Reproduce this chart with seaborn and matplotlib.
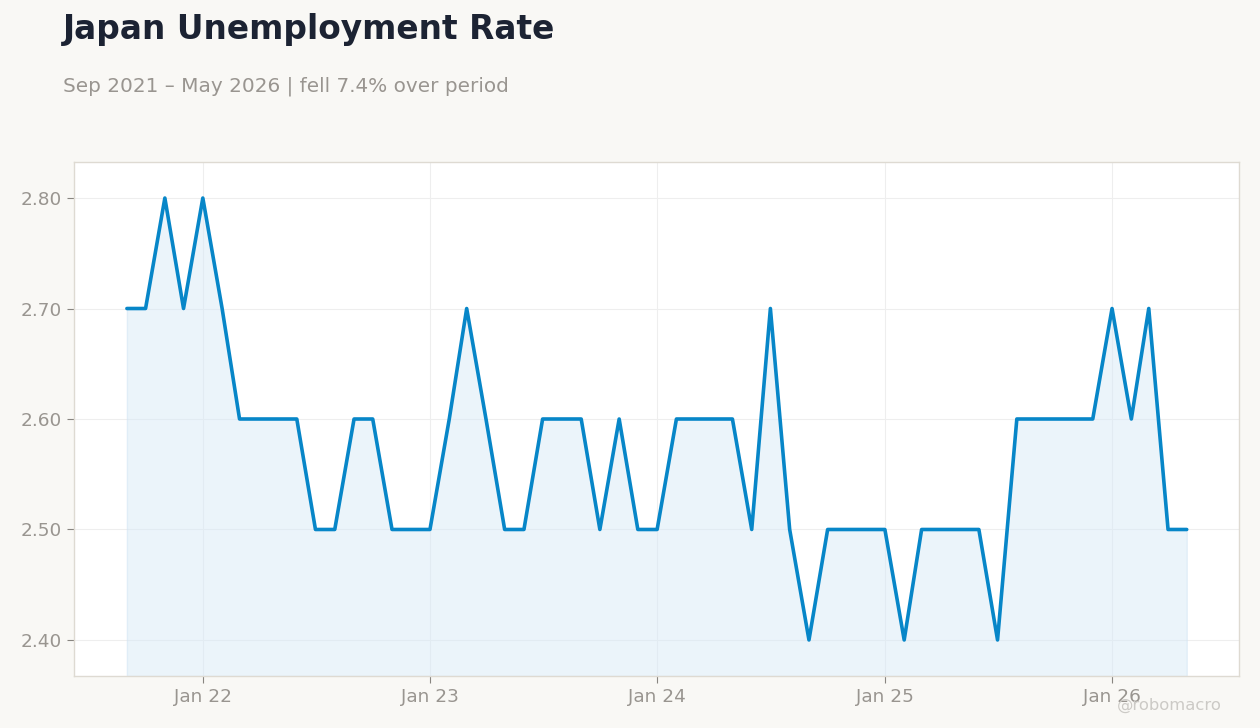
import pandas as pd
import matplotlib.pyplot as plt
import matplotlib.dates as mdates
import seaborn as sns

# monthly unemployment rate, Sep 2021 - May 2026
months = pd.date_range('2021-09-01', '2026-05-01', freq='MS')
rate = [2.7, 2.7, 2.8, 2.7,
        2.8, 2.7, 2.6, 2.6, 2.6, 2.6, 2.5, 2.5, 2.6, 2.6, 2.5, 2.5,
        2.5, 2.6, 2.7, 2.6, 2.5, 2.5, 2.6, 2.6, 2.6, 2.5, 2.6, 2.5,
        2.5, 2.6, 2.6, 2.6, 2.6, 2.5, 2.7, 2.5, 2.4, 2.5, 2.5, 2.5,
        2.5, 2.4, 2.5, 2.5, 2.5, 2.5, 2.4, 2.6, 2.6, 2.6, 2.6, 2.6,
        2.7, 2.6, 2.7, 2.5, 2.5]

df = pd.DataFrame({'date': months, 'rate': rate})

sns.set_style('whitegrid')
plt.rcParams['font.family'] = ['DejaVu Sans']

bg = '#f9f8f5'
line_col = '#0786c8'
grey = '#999590'

fig = plt.figure(figsize=(12.6, 7.28), dpi=100, facecolor=bg)
ax = fig.add_axes([74 / 1260, 1 - 676 / 728, (1239 - 74) / 1260, (676 - 162) / 728])
ax.set_facecolor('white')

sns.lineplot(data=df, x='date', y='rate', ax=ax, color=line_col, linewidth=2.6)

ymin, ymax = 2.3674, 2.8326
ax.fill_between(df['date'], df['rate'], ymin, color='#d8eaf7', alpha=0.5, linewidth=1,
                edgecolor='#cfe3f3')
ax.set_ylim(ymin, ymax)
ax.set_xlim(pd.Timestamp('2021-06-08'), pd.Timestamp('2026-07-24'))

ax.set_yticks([2.4, 2.5, 2.6, 2.7, 2.8])
ax.yaxis.set_major_formatter(plt.FormatStrFormatter('%.2f'))
ax.xaxis.set_major_locator(mdates.YearLocator(month=1))
ax.xaxis.set_major_formatter(mdates.DateFormatter('Jan %y'))

ax.grid(True, color='#eeeeee', linewidth=0.8)
ax.tick_params(axis='both', colors='#888580', labelcolor=grey, labelsize=13.3,
               length=5, width=0.8, bottom=True, left=True)
for s in ax.spines.values():
    s.set_color('#dedad2')
    s.set_linewidth(1)
ax.set_xlabel('')
ax.set_ylabel('')

fig.text(63 / 1260, 1 - 30 / 728, 'Japan Unemployment Rate', fontsize=23.7, fontweight='bold',
         color='#1c2333', va='center', ha='left')
fig.text(63 / 1260, 1 - 86 / 728, 'Sep 2021 – May 2026 | fell 7.4% over period', fontsize=14.4,
         color=grey, va='center', ha='left')
fig.text(1222 / 1260, 1 - 705 / 728, '@robomacro', fontsize=11.8, color='#cccac6',
         va='center', ha='right')

fig.savefig('out.png', dpi=100, facecolor=bg)
